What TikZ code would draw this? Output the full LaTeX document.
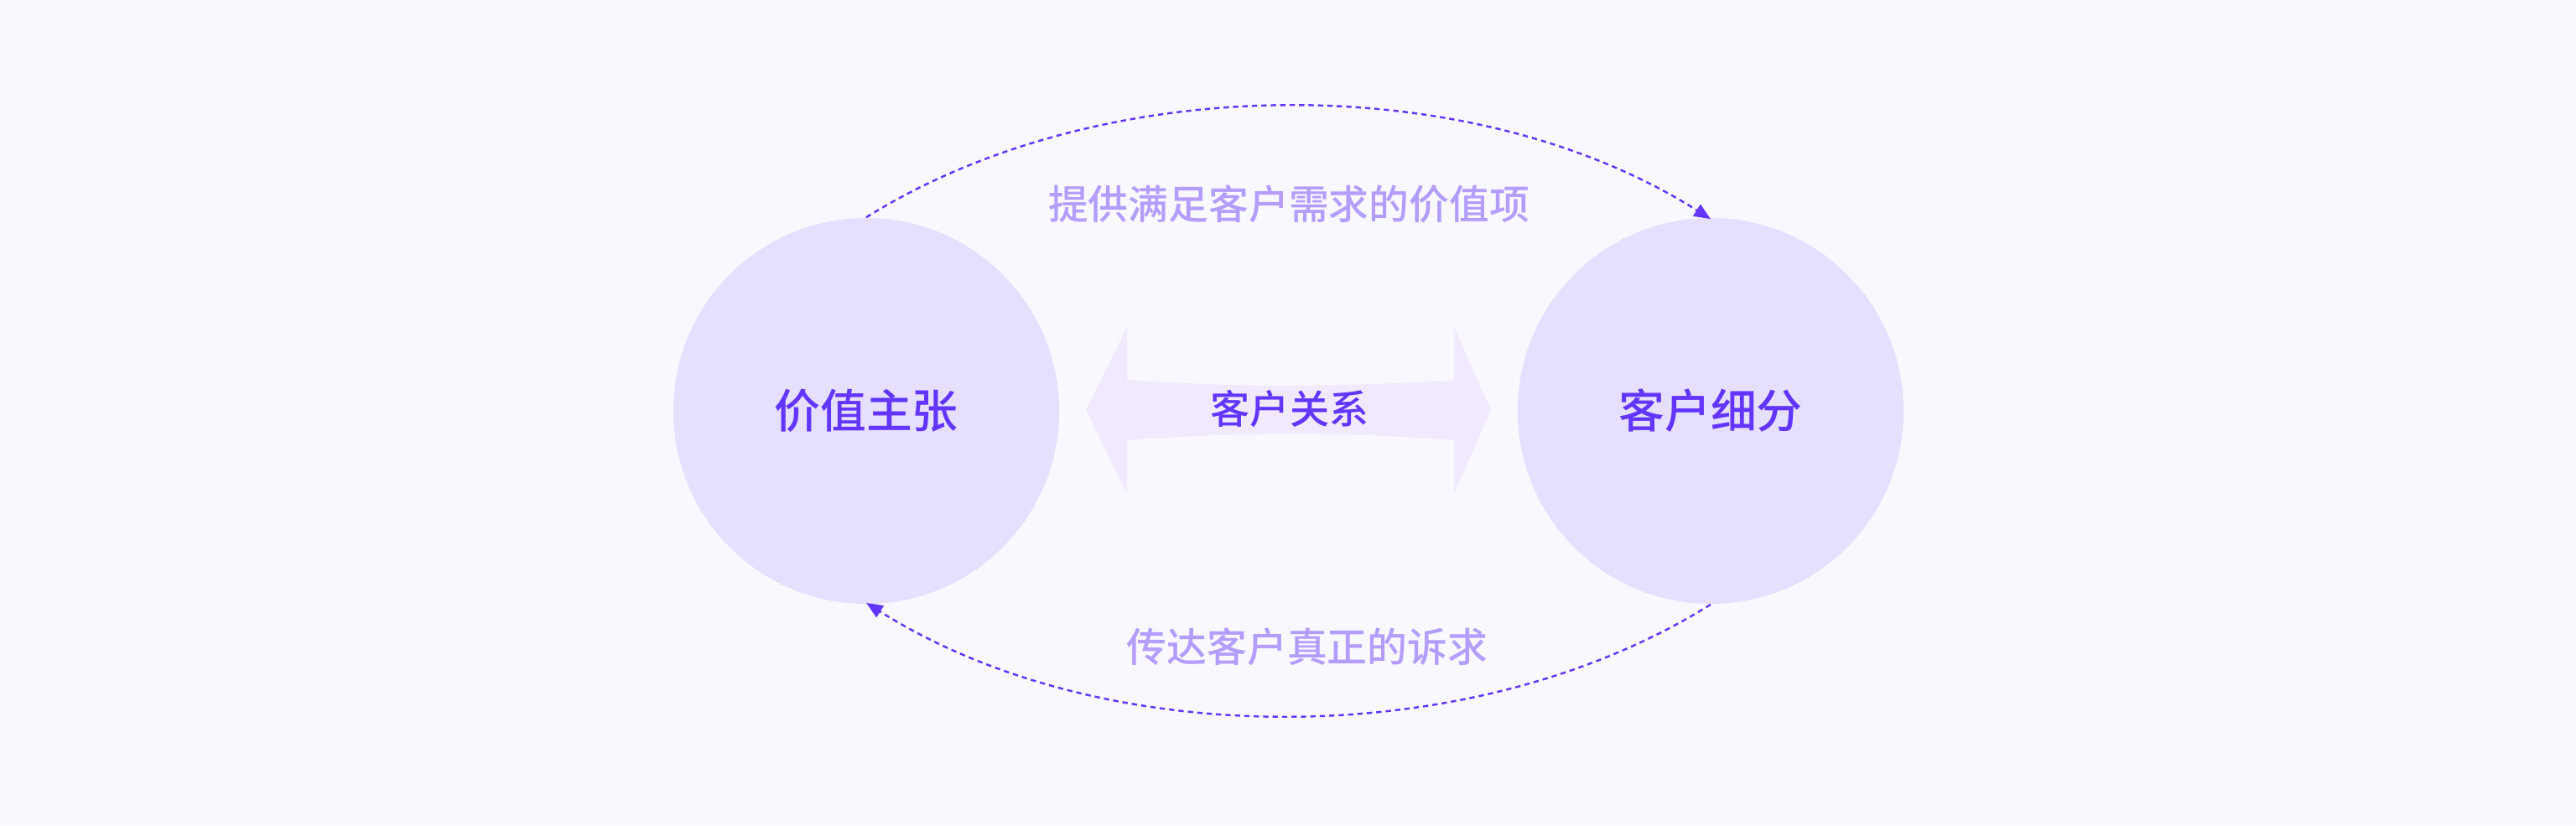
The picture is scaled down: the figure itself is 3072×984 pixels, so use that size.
\documentclass[tikz,border=0pt]{standalone}
\usepackage{fontspec}
\newfontfamily\cjk{Noto Sans CJK SC Medium}
\usetikzlibrary{arrows.meta}
\definecolor{bg}{HTML}{F9F8FE}
\definecolor{disc}{HTML}{E6E0FE}
\definecolor{band}{HTML}{F1EAFE}
\definecolor{main}{HTML}{6236FF}
\definecolor{soft}{HTML}{B39DFF}
\tikzset{
  disk/.style={circle, fill=disc, minimum size=4.6cm, inner sep=0pt, text=main, font=\cjk\fontsize{15.6pt}{18pt}\selectfont},
  flowline/.style={main, line width=0.7pt, dash pattern=on 1.8pt off 1.4pt, -{Triangle[length=5.6pt, width=4.6pt]}},
  flowlabel/.style={text=soft, font=\cjk\fontsize{13.6pt}{16pt}\selectfont, inner sep=0pt},
  bandlabel/.style={text=main, font=\cjk\fontsize{13.4pt}{16pt}\selectfont, inner sep=0pt}
}
\begin{document}
\begin{tikzpicture}[x=0.01cm, y=-0.01cm]
\fill[bg] (0,0) rectangle (3072,984);
\useasboundingbox (0,0) rectangle (3072,984);
% central double arrow band
\fill[band] (1295,489) -- (1344,390) -- (1344,453)
  .. controls (1474,462) and (1604,462) .. (1734,453)
  -- (1734,390) -- (1778,489) -- (1734,589) -- (1734,525)
  .. controls (1604,515) and (1474,515) .. (1344,525)
  -- (1344,589) -- cycle;
\node[bandlabel] (rel) at (1538,488) {客户关系};
% circles
\node[disk] (vp) at (1033,490) {价值主张};
\node[disk] (cs) at (2040,490) {客户细分};
% arcs
\draw[flowline] (vp.north) .. controls (1317,82) and (1757,82) .. ([yshift=-0.02cm]cs.north);
\draw[flowline] (cs.south) .. controls (1757,898) and (1317,898) .. ([yshift=0.02cm]vp.south);
\node[flowlabel] (top) at (1537,243) {提供满足客户需求的价值项};
\node[flowlabel] (bot) at (1559,771) {传达客户真正的诉求};
\end{tikzpicture}
\end{document}
